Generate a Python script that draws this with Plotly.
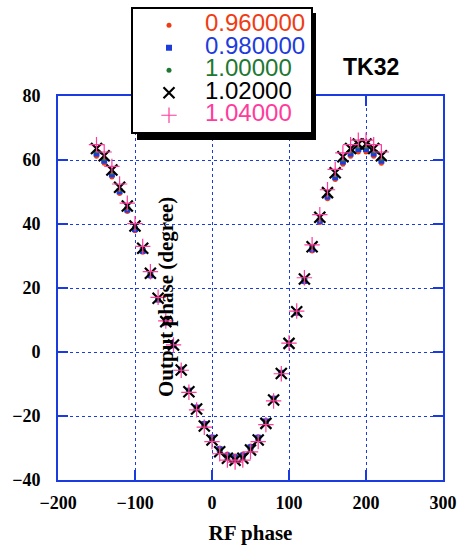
import plotly.graph_objects as go

rf_phase = [-150, -140, -130, -120, -110, -100, -90, -80, -70, -60,
            -50, -40, -30, -20, -10, 0, 10, 20, 30, 40, 50, 60, 70, 80, 90,
            100, 110, 120, 130, 140, 150, 160, 170, 180, 190, 200, 210, 220]

out_096 = [61.2, 59.0, 54.7, 49.5, 43.9, 37.9, 31.2, 23.7, 16.2, 9.1,
           2.1, -5.4, -11.9, -17.1, -22.2, -26.5, -30.0, -31.9, -32.5, -31.9,
           -29.4, -26.5, -21.5, -14.4, -6.4, 2.6, 12.1, 21.9, 31.6, 40.5,
           47.9, 53.9, 58.7, 61.2, 62.5, 62.5, 61.2, 59.0]
out_098 = [62.0, 59.8, 55.5, 50.2, 44.5, 38.4, 31.6, 24.0, 16.4, 9.3,
           2.1, -5.5, -12.1, -17.4, -22.5, -26.8, -30.4, -32.4, -33.0, -32.4,
           -29.8, -26.8, -21.7, -14.6, -6.5, 2.6, 12.3, 22.2, 32.1, 41.0,
           48.6, 54.6, 59.5, 62.0, 63.4, 63.4, 62.0, 59.8]
out_100 = [62.8, 60.5, 56.2, 50.8, 45.0, 38.9, 32.0, 24.3, 16.6, 9.4,
           2.2, -5.5, -12.2, -17.6, -22.8, -27.1, -30.8, -32.8, -33.4, -32.8,
           -30.2, -27.1, -22.0, -14.8, -6.6, 2.7, 12.4, 22.5, 32.5, 41.6,
           49.2, 55.3, 60.2, 62.8, 64.2, 64.2, 62.8, 60.5]
out_102 = [63.6, 61.3, 56.9, 51.5, 45.6, 39.4, 32.4, 24.6, 16.8, 9.5,
           2.2, -5.6, -12.4, -17.8, -23.1, -27.5, -31.2, -33.2, -33.8, -33.2,
           -30.6, -27.5, -22.3, -15.0, -6.7, 2.7, 12.6, 22.8, 32.9, 42.1,
           49.8, 56.0, 61.0, 63.6, 65.0, 65.0, 63.6, 61.3]
out_104 = [64.8, 62.5, 58.0, 52.5, 46.5, 40.1, 33.0, 25.1, 17.1, 9.7,
           2.2, -5.7, -12.6, -18.1, -23.5, -28.0, -31.8, -33.8, -34.4, -33.8,
           -31.2, -28.0, -22.7, -15.3, -6.8, 2.8, 12.8, 23.2, 33.5, 42.9,
           50.7, 57.1, 62.2, 64.8, 66.2, 66.2, 64.8, 62.5]

series_names = ["0.960000", "0.980000", "1.00000", "1.02000", "1.04000"]
series_vals = [out_096, out_098, out_100, out_102, out_104]
colors = ["#f03c14", "#1e3cdc", "#1e7832", "#000000", "#ff3c9b"]
symbols = ["circle", "square", "circle", "x-thin-open", "cross-thin-open"]
sizes = [5, 6, 5, 11, 11]
lwidths = [0, 0, 0, 2.2, 1.2]

W, H = 459, 549
ML, MR, MT, MB = 58, 16, 96, 69
pw, ph = W - ML - MR, H - MT - MB


def cx(px):
    return (px - ML) / pw


def cy(py):
    return (H - MB - py) / ph


fig = go.Figure()
for name, vals, c, sym, s, lw in zip(series_names, series_vals, colors, symbols, sizes, lwidths):
    fig.add_trace(go.Scatter(
        x=rf_phase, y=vals, mode="markers",
        name='<span style="font-size:24px;color:%s">%s</span>' % (c, name),
        marker=dict(symbol=sym, size=s, color=c, line=dict(color=c, width=lw)),
    ))

blue = "#1a3be0"
axis_common = dict(
    showline=True, linecolor=blue, linewidth=2, mirror="ticks",
    ticks="inside", ticklen=10, tickcolor=blue, tickwidth=1.5,
    showgrid=True, gridcolor=blue, griddash="dot", gridwidth=1,
    zeroline=False, automargin=False,
    tickfont=dict(family="Liberation Serif", size=18, color="black", weight="bold"),
)

fig.update_xaxes(range=[-200, 300], dtick=100, ticklabelstandoff=5,
                 title=dict(text="<b>RF phase</b>", standoff=14,
                            font=dict(family="Liberation Serif", size=21, color="black")),
                 **axis_common)
fig.update_yaxes(range=[-40, 80], dtick=20, ticklabelstandoff=12, **axis_common)

fig.add_annotation(x=cx(166), y=cy(297), xref="paper", yref="paper",
                   xanchor="center", yanchor="middle",
                   text="<b>Output phase (degree)</b>", textangle=-90, showarrow=False,
                   font=dict(family="Liberation Serif", size=21, color="black"))
fig.add_annotation(x=cx(371), y=cy(67), xref="paper", yref="paper",
                   xanchor="center", yanchor="middle", text="<b>TK32</b>",
                   showarrow=False,
                   font=dict(family="Liberation Sans", size=23, color="black"))

# legend drop shadow
fig.add_shape(type="rect", xref="paper", yref="paper",
              x0=cx(137), x1=cx(316), y0=cy(140), y1=cy(13),
              fillcolor="black", line=dict(width=0), layer="above")

fig.update_layout(
    width=W, height=H,
    margin=dict(l=ML, r=MR, t=MT, b=MB, autoexpand=False),
    paper_bgcolor="white", plot_bgcolor="white",
    showlegend=True,
    legend=dict(x=cx(131), y=cy(7), xanchor="left", yanchor="top",
                bgcolor="white", bordercolor="black", borderwidth=2,
                font=dict(family="Liberation Sans", size=15),
                itemwidth=62, tracegroupgap=0),
)

fig.write_html("out.html")
